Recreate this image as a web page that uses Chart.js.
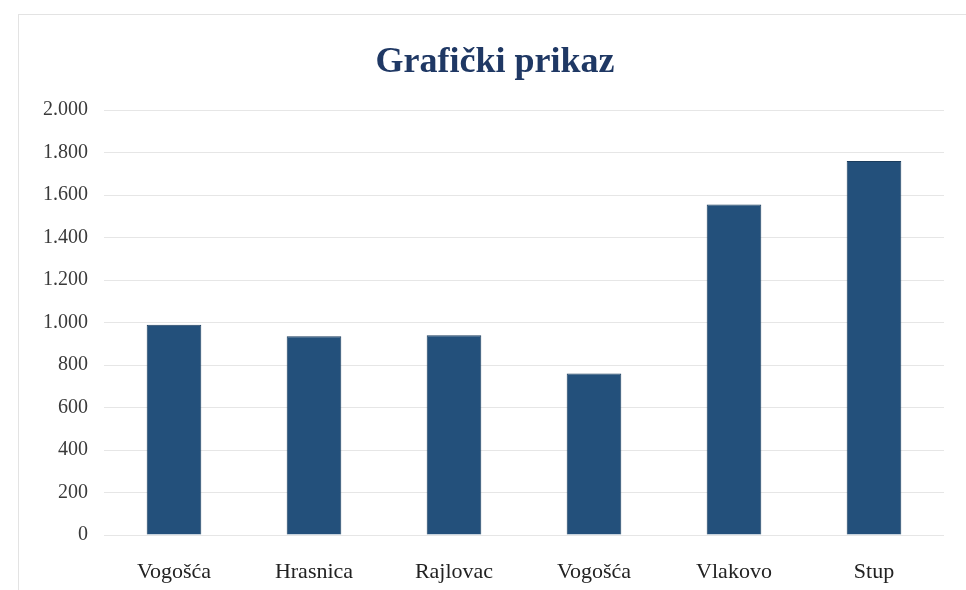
<!DOCTYPE html>
<html>
<head>
<meta charset="utf-8">
<title>Grafički prikaz</title>
<script src="https://cdn.jsdelivr.net/npm/chart.js@4.4.1/dist/chart.umd.min.js"></script>
<style>
  html, body { margin: 0; padding: 0; background: #ffffff; }
  .frame {
    position: absolute;
    left: 18px; top: 14px; right: -2px; bottom: -2px;
    border: 1px solid #e3e3e3;
  }
  .wrap { position: absolute; left: 0; top: 0; width: 966px; height: 590px; }
  .naslov {
    position: absolute;
    left: 295px; top: 38px; width: 400px;
    margin: 0;
    text-align: center;
    font-family: 'Liberation Serif', 'Times New Roman', serif;
    font-size: 36px; font-weight: bold;
    line-height: 44px;
    color: #1f3864;
  }
</style>
</head>
<body>
<div class="frame"></div>
<div class="wrap"><canvas id="chart" width="966" height="590"></canvas></div>
<h1 class="naslov">Grafički prikaz</h1>
<script>
const mjesta = ["Vogošća", "Hrasnica", "Rajlovac", "Vogošća", "Vlakovo", "Stup"];
const vrijednosti = [990, 935, 940, 760, 1555, 1760];
const yTicks = [0, 200, 400, 600, 800, 1000, 1200, 1400, 1600, 1800, 2000];

const serif = "'Liberation Serif', 'Times New Roman', serif";

// tick labels use a dot as thousands separator
const formatBroj = (v) => v.toString().replace(/\B(?=(\d{3})+(?!\d))/g, ".");

document.addEventListener("DOMContentLoaded", () => {
  const ctx = document.getElementById("chart").getContext("2d");
  new Chart(ctx, {
    type: "bar",
    data: {
      labels: mjesta,
      datasets: [
        {
          label: "Grafički prikaz",
          data: vrijednosti,
          backgroundColor: "#23507b",
          borderColor: "#1b3d5e",
          borderWidth: 1,
          barPercentage: 0.39,
          categoryPercentage: 1,
        },
      ],
    },
    options: {
      responsive: false,
      animation: false,
      // top padding leaves room for the heading above the plot
      layout: { padding: { left: 10, right: 22, top: 110, bottom: 0 } },
      plugins: {
        legend: { display: false },
        tooltip: { enabled: false },
        title: { display: false },
      },
      scales: {
        x: {
          grid: { display: false },
          border: { display: false },
          ticks: {
            color: "#222222",
            font: { family: serif, size: 22 },
            padding: 16,
            maxRotation: 0,
          },
          afterFit: (scale) => { scale.height = 55; },
        },
        y: {
          min: 0,
          max: 2000,
          afterBuildTicks: (scale) => {
            scale.ticks = yTicks.map((v) => ({ value: v }));
          },
          grid: { color: "#e6e6e6", drawTicks: false },
          border: { display: false },
          ticks: {
            color: "#3a3a3a",
            font: { family: serif, size: 20 },
            padding: 16,
            callback: (v) => formatBroj(v),
          },
          afterFit: (scale) => { scale.width = 94; },
        },
      },
    },
  });
});
</script>
</body>
</html>
